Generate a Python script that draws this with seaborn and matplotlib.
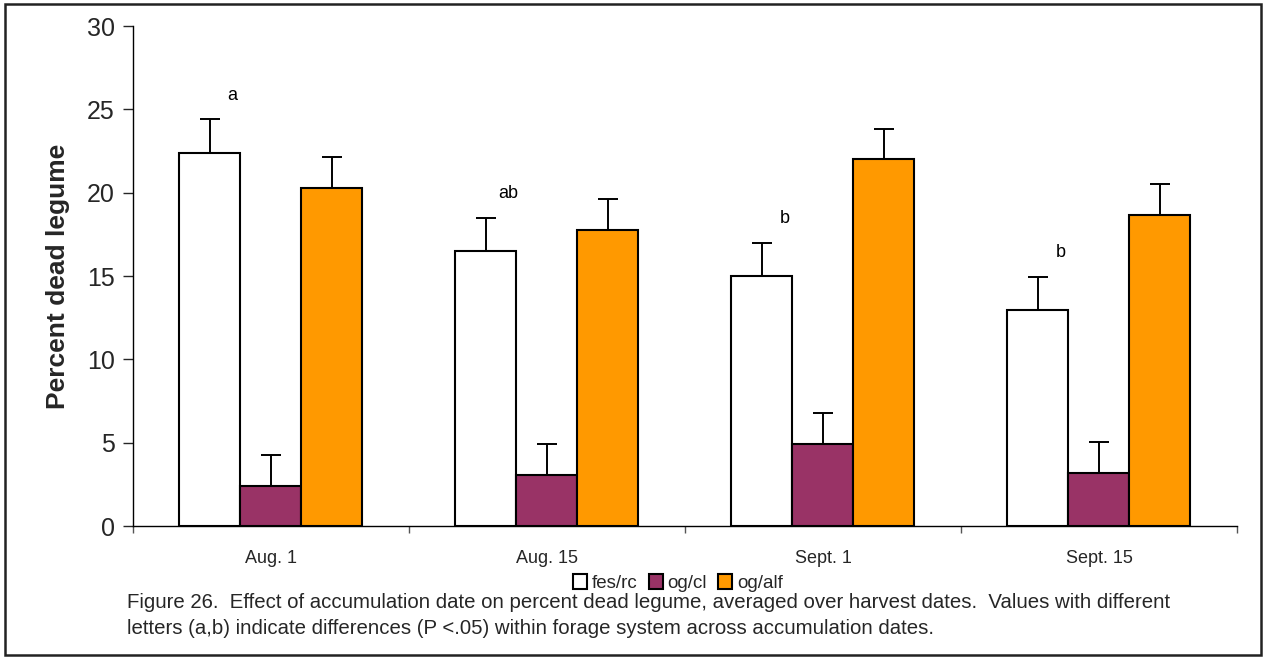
import matplotlib
matplotlib.use("Agg")
import matplotlib.pyplot as plt
import seaborn as sns
import pandas as pd
import numpy as np
from matplotlib.patches import Rectangle

dates = ["Aug. 1", "Aug. 15", "Sept. 1", "Sept. 15"]
systems = ["fes/rc", "og/cl", "og/alf"]
fes_rc = [22.4, 16.5, 15.0, 12.95]
og_cl = [2.4, 3.05, 4.95, 3.2]
og_alf = [20.3, 17.75, 22.0, 18.65]
fes_rc_err = [2.0, 2.0, 2.0, 2.0]
og_cl_err = [1.85, 1.85, 1.85, 1.85]
og_alf_err = [1.85, 1.85, 1.85, 1.85]
letters = ["a", "ab", "b", "b"]
colors = ["#FFFFFF", "#993366", "#FF9900"]

caption = ("Figure 26.  Effect of accumulation date on percent dead legume, averaged over harvest dates.  Values with different\n"
           "letters (a,b) indicate differences (P <.05) within forage system across accumulation dates.")

df = pd.DataFrame({
    "date": dates * 3,
    "system": [s for s in systems for _ in dates],
    "value": fes_rc + og_cl + og_alf,
    "err": fes_rc_err + og_cl_err + og_alf_err,
})

sns.set_style("ticks")
plt.rcParams["font.family"] = ["Liberation Sans", "DejaVu Sans"]

fig = plt.figure(figsize=(12.64, 6.59), dpi=100)
ax = fig.add_axes([0.1052, 0.2018, 0.8734, 0.7587])

sns.barplot(data=df, x="date", y="value", hue="system", order=dates,
            hue_order=systems, palette=colors, width=0.663, errorbar=None,
            edgecolor="black", linewidth=1.5, saturation=1, ax=ax, legend=True)

# error bars (upward only) from bar geometry
bars = [p for p in ax.patches if p.get_height() > 0][:len(df)]
for i, s in enumerate(systems):
    for j, d in enumerate(dates):
        p = bars[i * len(dates) + j]
        xc = p.get_x() + p.get_width() / 2
        h = p.get_height()
        e = df[(df.system == s) & (df.date == d)]["err"].iloc[0]
        ax.errorbar([xc], [h], yerr=[[0], [e]], fmt="none", ecolor="black",
                    elinewidth=1.4, capsize=7.5, capthick=1.4, zorder=5)

# significance letters
for j, lab in enumerate(letters):
    ax.text(j - 0.14, fes_rc[j] + fes_rc_err[j] + 1.45, lab, ha="center",
            va="center", fontsize=13, color="black")

ax.set_xlim(-0.5, 3.5)
ax.set_ylim(0, 30)
ax.set_yticks(range(0, 31, 5))
ax.tick_params(axis="y", labelsize=18, length=7, width=1, direction="out", pad=6)
ax.set_xticks(np.arange(4))
ax.set_xticklabels(dates)
ax.tick_params(axis="x", which="major", length=0, labelsize=13, pad=17)
ax.set_xticks(np.arange(-0.5, 4.0, 1.0), minor=True)
ax.tick_params(axis="x", which="minor", length=5, width=1, color="#555555")
ax.set_xlabel("")
ax.set_ylabel("Percent dead legume", fontsize=19, fontweight="bold", labelpad=12)
sns.despine(ax=ax)
for sp in ["left", "bottom"]:
    ax.spines[sp].set_linewidth(1.0)
    ax.spines[sp].set_color("black")

handles, labels = ax.get_legend_handles_labels()
ax.get_legend().remove()
fig.legend(handles, labels, loc="center", bbox_to_anchor=(678 / 1264, 1 - 583 / 659),
           ncol=3, frameon=False, fontsize=13.5, handlelength=0.75, handleheight=0.8,
           handletextpad=0.25, columnspacing=0.6, borderpad=0.1)

lines = caption.split("\n")
fig.text(127 / 1264, 1 - 603 / 659, lines[0], ha="left", va="center", fontsize=14.7)
fig.text(127 / 1264, 1 - 628 / 659, lines[1], ha="left", va="center", fontsize=14.7)

fig.patches.append(Rectangle((5 / 1264, 4 / 659), 1256 / 1264, 651 / 659,
                             transform=fig.transFigure, fill=False,
                             edgecolor="#222222", linewidth=1.8))

fig.savefig("out.png", dpi=100, facecolor="white")
